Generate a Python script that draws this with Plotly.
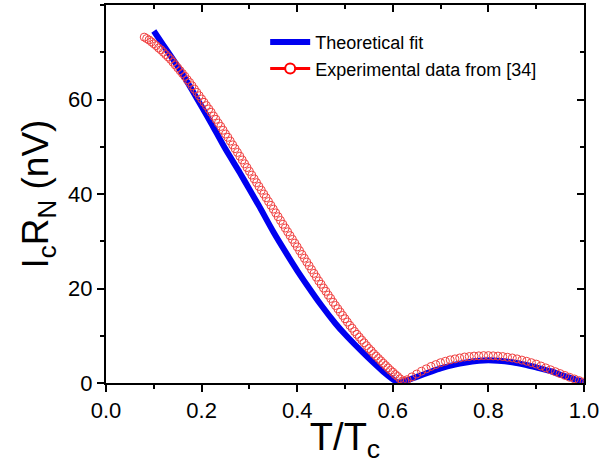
import plotly.graph_objects as go

# Theoretical fit (blue line)
fit_x = [0.10, 0.12, 0.15, 0.18, 0.20, 0.22, 0.25, 0.28, 0.30, 0.32, 0.35, 0.38, 0.40,
         0.42, 0.45, 0.48, 0.50, 0.52, 0.55, 0.58, 0.60, 0.61,
         0.63, 0.65, 0.68, 0.70, 0.73, 0.75, 0.78, 0.80, 0.82, 0.85, 0.88, 0.90,
         0.93, 0.95, 0.98, 1.00]
fit_y = [74.5, 71.5, 67.0, 62.0, 58.5, 55.0, 49.5, 44.5, 41.0, 37.5, 32.0, 27.0, 23.8,
         20.8, 16.5, 12.6, 10.3, 8.2, 5.2, 2.4, 0.8, 0.1,
         0.6, 1.3, 2.4, 3.1, 3.9, 4.3, 4.7, 4.8, 4.7, 4.4, 3.8, 3.3,
         2.5, 1.8, 0.8, 0.2]

# Experimental data from [34] (red open circles)
exp_x = [0.080, 0.085, 0.090, 0.095, 0.100, 0.105, 0.110, 0.115, 0.120, 0.125,
         0.130, 0.135, 0.140, 0.145, 0.150, 0.155, 0.160, 0.165, 0.170, 0.175,
         0.180, 0.185, 0.190, 0.195, 0.200, 0.205, 0.210, 0.215, 0.220, 0.225,
         0.230, 0.235, 0.240, 0.245, 0.250, 0.255, 0.260, 0.265, 0.270, 0.275,
         0.280, 0.285, 0.290, 0.295, 0.300, 0.305, 0.310, 0.315, 0.320, 0.325,
         0.330, 0.335, 0.340, 0.345, 0.350, 0.355, 0.360, 0.365, 0.370, 0.375,
         0.380, 0.385, 0.390, 0.395, 0.400, 0.405, 0.410, 0.415, 0.420, 0.425,
         0.430, 0.435, 0.440, 0.445, 0.450, 0.455, 0.460, 0.465, 0.470, 0.475,
         0.480, 0.485, 0.490, 0.495, 0.500, 0.505, 0.510, 0.515, 0.520, 0.525,
         0.530, 0.535, 0.540, 0.545, 0.550, 0.555, 0.560, 0.565, 0.570, 0.575,
         0.580, 0.585, 0.590, 0.595, 0.600, 0.605, 0.610, 0.615, 0.620, 0.625,
         0.630, 0.640, 0.650, 0.660, 0.670, 0.680, 0.690, 0.700, 0.710, 0.720,
         0.730, 0.740, 0.750, 0.760, 0.770, 0.780, 0.790, 0.800, 0.810, 0.820,
         0.830, 0.840, 0.850, 0.860, 0.870, 0.880, 0.890, 0.900, 0.910, 0.920,
         0.930, 0.940, 0.950, 0.960, 0.970, 0.980, 0.990, 1.000]
exp_y = [73.2, 72.9, 72.6, 72.2, 71.8, 71.4, 70.9, 70.5, 70.0, 69.5,
         69.0, 68.5, 67.9, 67.3, 66.7, 66.1, 65.5, 64.9, 64.2, 63.6,
         62.9, 62.2, 61.5, 60.8, 60.1, 59.4, 58.7, 58.0, 57.3, 56.5,
         55.8, 55.0, 54.3, 53.5, 52.7, 52.0, 51.2, 50.4, 49.6, 48.8,
         48.0, 47.2, 46.4, 45.6, 44.8, 44.0, 43.2, 42.4, 41.6, 40.8,
         40.0, 39.2, 38.4, 37.6, 36.8, 36.0, 35.2, 34.4, 33.6, 32.8,
         32.0, 31.2, 30.4, 29.6, 28.8, 28.0, 27.2, 26.4, 25.6, 24.8,
         24.0, 23.2, 22.4, 21.6, 20.9, 20.1, 19.4, 18.6, 17.9, 17.1,
         16.4, 15.7, 15.0, 14.3, 13.6, 12.9, 12.2, 11.6, 10.9, 10.3,
         9.7, 9.1, 8.5, 7.9, 7.3, 6.8, 6.2, 5.7, 5.2, 4.7,
         4.2, 3.7, 3.2, 2.7, 2.3, 1.8, 1.4, 0.9, 0.4, 0.4,
         0.7, 1.3, 1.9, 2.5, 3.0, 3.5, 3.9, 4.3, 4.6, 4.9,
         5.1, 5.3, 5.5, 5.6, 5.7, 5.75, 5.8, 5.8, 5.75, 5.7,
         5.6, 5.45, 5.3, 5.1, 4.85, 4.6, 4.3, 4.0, 3.6, 3.2,
         2.8, 2.4, 2.0, 1.6, 1.2, 0.85, 0.5, 0.2]

x_ticks = [0.0, 0.2, 0.4, 0.6, 0.8, 1.0]
y_ticks = [0, 20, 40, 60]

FONT = "Liberation Sans, Arial, sans-serif"

fig = go.Figure()

fig.add_trace(go.Scatter(
    x=fit_x, y=fit_y, mode="lines", name="Theoretical fit",
    line=dict(color="#0000f0", width=6, shape="spline", smoothing=0.6),
))
fig.add_trace(go.Scatter(
    x=exp_x, y=exp_y, mode="markers", showlegend=False,
    marker=dict(symbol="circle-open", size=8, color="#f04040", line=dict(width=1)),
))
# legend entry drawn as line + open circle, like the original
fig.add_trace(go.Scatter(
    x=[None], y=[None], mode="lines+markers", name="Experimental data from [34]",
    line=dict(color="#ff0000", width=3),
    marker=dict(symbol="circle", size=10, color="white", line=dict(color="#ff0000", width=2)),
))
# invisible trace so the mirrored (inside-tick) top/right axes get drawn
fig.add_trace(go.Scatter(
    x=[0.5], y=[40], xaxis="x2", yaxis="y2", mode="markers",
    marker=dict(opacity=0), showlegend=False, hoverinfo="skip",
))

axis_common = dict(
    showline=True, linecolor="black", linewidth=2, showgrid=False, zeroline=False,
    ticklen=7, tickwidth=1.5, tickcolor="black",
    tickfont=dict(family=FONT, size=22, color="black"),
)

fig.update_layout(
    width=613, height=464,
    margin=dict(l=106, r=29, t=5, b=81),
    paper_bgcolor="white", plot_bgcolor="white",
    font=dict(family=FONT, color="black"),
    xaxis=dict(
        range=[0, 1], tickvals=x_ticks, ticktext=[f"{v:.1f}" for v in x_ticks],
        ticks="outside",
        minor=dict(ticks="outside", ticklen=4, tickcolor="black", dtick=0.1, tick0=0),
        title=dict(text="T/T<sub>c</sub>", font=dict(family=FONT, size=38), standoff=4),
        **axis_common,
    ),
    yaxis=dict(
        range=[0, 80], tickvals=y_ticks,
        ticks="outside",
        minor=dict(ticks="outside", ticklen=4, tickcolor="black", dtick=10, tick0=0),
        title=dict(text="I<sub>c</sub>R<sub>N</sub> (nV)", font=dict(family=FONT, size=37), standoff=8),
        **axis_common,
    ),
    xaxis2=dict(
        overlaying="x", side="top", anchor="y", range=[0, 1], tickvals=x_ticks,
        showticklabels=False, ticks="inside",
        minor=dict(ticks="inside", ticklen=4, tickcolor="black", dtick=0.1, tick0=0),
        **axis_common,
    ),
    yaxis2=dict(
        overlaying="y", side="right", anchor="x", range=[0, 80], tickvals=y_ticks,
        showticklabels=False, ticks="inside",
        minor=dict(ticks="inside", ticklen=4, tickcolor="black", dtick=10, tick0=0),
        **axis_common,
    ),
    legend=dict(
        x=0.333, y=0.95, xanchor="left", yanchor="top",
        bgcolor="rgba(0,0,0,0)", font=dict(family=FONT, size=18),
        tracegroupgap=0, itemwidth=40,
    ),
)

# remove the page's default body margin so the figure sits at the window's corner
fig.write_html("out.html", config={"displayModeBar": False},
               post_script="document.body.style.margin='0';document.body.style.overflow='hidden';")
